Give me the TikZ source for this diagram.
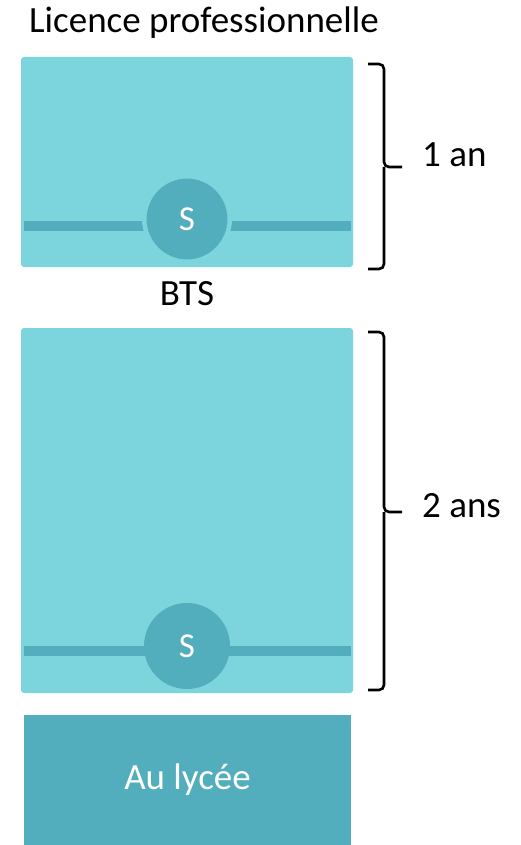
\documentclass[tikz,border=0pt]{standalone}
\usepackage{fontspec}
\setmainfont{Carlito}
\usetikzlibrary{calc}
\definecolor{cyanlight}{HTML}{7CD4DD}
\definecolor{cyandark}{HTML}{52ADBC}

\begin{document}
\begin{tikzpicture}[x=1pt,y=-1pt,
    box/.style={fill=cyanlight,rounded corners=3pt,inner sep=0pt},
    bar/.style={draw=cyandark,line width=10pt},
    sem/.style={circle,fill=cyandark,text=white,inner sep=0pt,font=\fontsize{35}{40}\selectfont},
    lbl/.style={inner sep=0pt,font=\fontsize{37}{44}\selectfont},
    accol/.style={draw=black,line width=2.6pt,rounded corners=5pt}]
  \useasboundingbox (0,0) rectangle (521,845);
  % licence
  \node[box,minimum width=332pt,minimum height=210pt] (lp) at (187,162) {};
  \node[lbl,anchor=base] (lptitle) at (204,33) {Licence professionnelle};
  \draw[bar] (24,226) -- (351,226);
  \node[sem,minimum size=85.5pt,draw=cyanlight,line width=4.5pt] (s1) at (187,219) {S};
  % bts
  \node[lbl,anchor=base] (bts) at (187,305) {BTS};
  \node[box,minimum width=332pt,minimum height=365pt] (btsbox) at (187,510.5) {};
  \draw[bar] (24,651) -- (351,651);
  \node[sem,minimum size=86pt] (s2) at (187,646) {S};
  % lycee
  \node[fill=cyandark,text=white,minimum width=327pt,minimum height=130pt,inner sep=0pt,
        font=\fontsize{37}{44}\selectfont] (lycee) at (187.5,780) {Au lycée};
  % accolades
  \draw[accol] (368,64) -| (384,167) -- (402,167);
  \draw[accol] (368,269) -| (384,167);
  \node[lbl,anchor=base west] (an1) at (422,167) {1 an};
  \draw[accol] (368,332) -| (384,512) -- (402,512);
  \draw[accol] (368,690) -| (384,512);
  \node[lbl,anchor=base west] (an2) at (422,517) {2 ans};
\end{tikzpicture}
\end{document}
